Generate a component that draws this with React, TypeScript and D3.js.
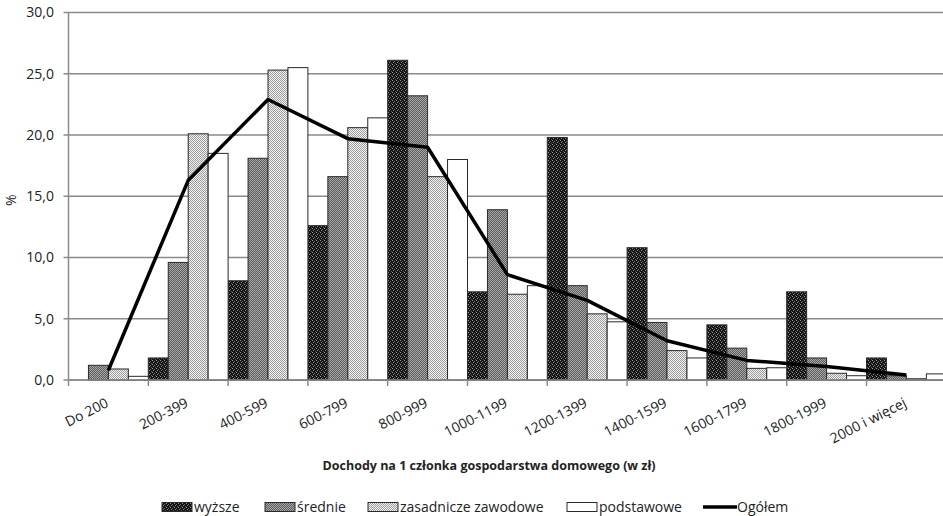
import * as d3 from "d3";

// Dochody na 1 członka gospodarstwa domowego, rozkład wg wykształcenia (%)
const categories = [
  "Do 200",
  "200-399",
  "400-599",
  "600-799",
  "800-999",
  "1000-1199",
  "1200-1399",
  "1400-1599",
  "1600-1799",
  "1800-1999",
  "2000 i więcej",
];

const wyzsze = [0, 1.8, 8.1, 12.6, 26.1, 7.2, 19.8, 10.8, 4.5, 7.2, 1.8];
const srednie = [1.2, 9.6, 18.1, 16.6, 23.2, 13.9, 7.7, 4.7, 2.6, 1.8, 0.35];
const zasadnicze = [0.9, 20.1, 25.3, 20.6, 16.6, 7.0, 5.4, 2.4, 0.95, 0.55, 0.1];
const podstawowe = [0.3, 18.5, 25.5, 21.4, 18.0, 7.7, 4.75, 1.8, 1.0, 0.35, 0.5];
const ogolem = [0.8, 16.3, 22.9, 19.7, 19.0, 8.6, 6.5, 3.2, 1.6, 1.1, 0.4];

const series = [
  { key: "wyższe", values: wyzsze, fill: "url(#p-wyzsze)" },
  { key: "średnie", values: srednie, fill: "url(#p-srednie)" },
  { key: "zasadnicze zawodowe", values: zasadnicze, fill: "url(#p-zas)" },
  { key: "podstawowe", values: podstawowe, fill: "#ffffff" },
];

const yTicks = [0, 5, 10, 15, 20, 25, 30];

const W = 943;
const H = 516;
const left = 68.5;
const right = 946.3;
const top = 12.5;
const bottom = 380;
const font = "'Open Sans', 'DejaVu Sans', sans-serif";
const grid = "#8a8a8a";

export default function App() {
  const x = d3.scaleBand().domain(categories).range([left, right]).padding(0);
  const xs = d3
    .scaleBand()
    .domain(series.map((s) => s.key))
    .range([0, x.bandwidth()])
    .padding(0);
  const y = d3.scaleLinear().domain([0, 30]).range([bottom, top]);
  const fmt = (v: number) => d3.format(".1f")(v).replace(".", ",");

  const line = d3
    .line<number>()
    .x((_, i) => (x(categories[i]) as number) + x.bandwidth() / 2)
    .y((d) => y(d));

  const legend = [
    { label: "wyższe", x: 162, kind: "rect", fill: "url(#p-wyzsze)" },
    { label: "średnie", x: 265, kind: "rect", fill: "url(#p-srednie)" },
    { label: "zasadnicze zawodowe", x: 368, kind: "rect", fill: "url(#p-zas)" },
    { label: "podstawowe", x: 567, kind: "rect", fill: "#ffffff" },
    { label: "Ogółem", x: 703, kind: "line", fill: "none" },
  ];

  return (
    <svg
      width={W}
      height={H}
      style={{ position: "absolute", left: 0, top: 0, background: "#fff" }}
      fontFamily={font}
    >
      <defs>
        <pattern id="p-wyzsze" width="4" height="4" patternUnits="userSpaceOnUse">
          <rect width="4" height="4" fill="#141414" />
          <rect x="0" y="0" width="1" height="1" fill="#9a9a9a" />
          <rect x="2" y="1" width="1" height="1" fill="#6a6a6a" />
          <rect x="1" y="2" width="1" height="1" fill="#8a8a8a" />
          <rect x="3" y="3" width="1" height="1" fill="#5a5a5a" />
        </pattern>
        <pattern id="p-srednie" width="2" height="2" patternUnits="userSpaceOnUse">
          <rect width="2" height="2" fill="#5c5c5c" />
          <rect x="0" y="0" width="1" height="1" fill="#a8a8a8" />
          <rect x="1" y="1" width="1" height="1" fill="#a8a8a8" />
        </pattern>
        <pattern id="p-zas" width="2" height="2" patternUnits="userSpaceOnUse">
          <rect width="2" height="2" fill="#f4f4f4" />
          <rect x="0" y="0" width="1" height="1" fill="#9c9c9c" />
          <rect x="1" y="1" width="1" height="1" fill="#9c9c9c" />
        </pattern>
      </defs>

      {/* gridlines + y labels */}
      {yTicks.map((t) => (
        <g key={t}>
          <line x1={left - 5} x2={W} y1={y(t)} y2={y(t)} stroke={grid} strokeWidth={1.5} />
          <text
            x={54}
            y={y(t)}
            dy="0.35em"
            textAnchor="end"
            fontSize={14}
            fill="#222"
          >
            {fmt(t)}
          </text>
        </g>
      ))}
      <line x1={left} x2={left} y1={top} y2={bottom} stroke={grid} strokeWidth={1.5} />
      <text
        transform={`translate(16,${(top + bottom) / 2 + 4}) rotate(-90)`}
        textAnchor="middle"
        fontSize={14}
        fill="#222"
      >
        %
      </text>

      {/* bars */}
      {series.map((s) => (
        <g key={s.key}>
          {s.values.map((v, i) =>
            v > 0 ? (
              <rect
                key={i}
                x={(x(categories[i]) as number) + (xs(s.key) as number)}
                y={y(v)}
                width={xs.bandwidth()}
                height={y(0) - y(v)}
                fill={s.fill}
                stroke="#2a2a2a"
                strokeWidth={1}
              />
            ) : null
          )}
        </g>
      ))}

      {/* x axis */}
      <line x1={left} x2={W} y1={bottom} y2={bottom} stroke={grid} strokeWidth={1.5} />
      {categories.map((c) => (
        <line
          key={c}
          x1={x(c) as number}
          x2={x(c) as number}
          y1={bottom}
          y2={bottom + 6}
          stroke={grid}
          strokeWidth={1.5}
        />
      ))}
      {categories.map((c) => {
        const cx = (x(c) as number) + x.bandwidth() / 2 + 1;
        return (
          <text
            key={c}
            transform={`translate(${cx},${bottom + 26}) rotate(-27)`}
            textAnchor="end"
            fontSize={14}
            fill="#222"
          >
            {c}
          </text>
        );
      })}

      {/* total line */}
      <path d={line(ogolem) || ""} fill="none" stroke="#000" strokeWidth={3.5} strokeLinejoin="round" />

      {/* x title */}
      <text
        x={489}
        y={470}
        textAnchor="middle"
        fontSize={12.5}
        fontWeight="bold"
        fill="#222"
      >
        Dochody na 1 członka gospodarstwa domowego (w zł)
      </text>

      {/* legend */}
      {legend.map((l) => (
        <g key={l.label} transform={`translate(${l.x},507)`}>
          {l.kind === "rect" ? (
            <rect x={0} y={-4.5} width={30} height={9} fill={l.fill} stroke="#2a2a2a" strokeWidth={1} />
          ) : (
            <line x1={0} x2={34} y1={0} y2={0} stroke="#000" strokeWidth={3.5} />
          )}
          <text x={l.kind === "rect" ? 32 : 34} y={0} dy="0.35em" fontSize={14} fill="#222">
            {l.label}
          </text>
        </g>
      ))}
    </svg>
  );
}
